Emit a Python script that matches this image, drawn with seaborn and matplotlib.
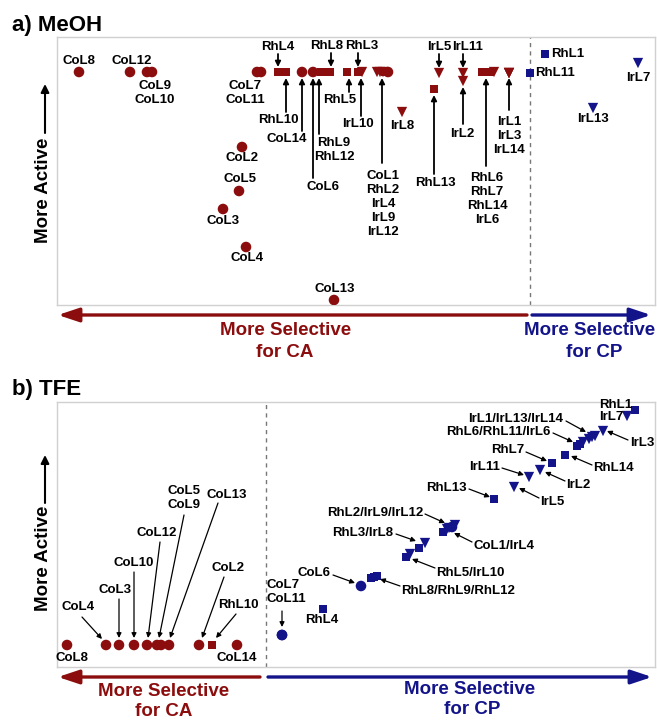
import numpy as np
import pandas as pd
import matplotlib
matplotlib.use('Agg')
import matplotlib.pyplot as plt
import seaborn as sns

# values; axis units are pixels of the original panels
# (x = selectivity, y = activity, small y = more active)

ligands = ['CoL1', 'CoL2', 'CoL3', 'CoL4', 'CoL5', 'CoL6', 'CoL7', 'CoL8', 'CoL9', 'CoL10', 'CoL11', 'CoL12', 'CoL13', 'CoL14',
           'RhL1', 'RhL2', 'RhL3', 'RhL4', 'RhL5', 'RhL6', 'RhL7', 'RhL8', 'RhL9', 'RhL10', 'RhL11', 'RhL12', 'RhL13', 'RhL14',
           'IrL1', 'IrL2', 'IrL3', 'IrL4', 'IrL5', 'IrL6', 'IrL7', 'IrL8', 'IrL9', 'IrL10', 'IrL11', 'IrL12', 'IrL13', 'IrL14']

# a) MeOH
meoh_sel = [388, 242, 223, 246, 239, 313, 257, 79, 147, 152, 261, 130, 334, 302,
            545, 385, 358, 278, 347, 482, 486, 330, 321, 286, 530, 322, 434, 490,
            509, 463, 509, 377, 439, 494, 638, 402, 380, 362, 463, 383, 593, 509]
meoh_act = [72, 147, 209, 247, 191, 72, 72, 72, 72, 72, 72, 72, 300, 72,
            54, 72, 72, 72, 72, 72, 72, 72, 72, 72, 73, 72, 89, 72,
            73, 81, 73, 72, 73, 72, 63, 112, 72, 72, 73, 72, 108, 73]
meoh_split = 530

# b) TFE
tfe_sel = [452, 199, 119, 106, 157, 361, 282, 67, 161, 134, 282, 147, 169, 237,
           635, 443, 419, 323, 406, 577, 552, 371, 374, 212, 580, 377, 494, 565,
           589, 540, 603, 455, 514, 583, 627, 425, 447, 410, 529, 449, 592, 595]
tfe_act = [527, 645, 645, 645, 645, 586, 635, 645, 645, 645, 635, 645, 645, 645,
           410, 532, 548, 609, 557, 446, 463, 578, 577, 645, 444, 576, 499, 455,
           439, 470, 431, 525, 487, 442, 416, 543, 529, 554, 477, 528, 437, 436]
tfe_split = 266

RED = '#8c0d0d'
BLUE = '#13138a'
pal = {'CA': RED, 'CP': BLUE}
mk = {'Co': 'o', 'Rh': 's', 'Ir': 'v'}
msize = {'Co': 58, 'Rh': 40, 'Ir': 55}

sns.set_theme(style='white')
plt.rcParams['font.family'] = ['Liberation Sans', 'DejaVu Sans']
plt.rcParams['font.weight'] = 'bold'
plt.rcParams['text.color'] = 'black'

W, H = 657, 720
fig = plt.figure(figsize=(W / 100, H / 100), dpi=100)


def make_ax(top, bottom, split):
    ax = fig.add_axes([57 / W, 1 - bottom / H, 598 / W, (bottom - top) / H])
    ax.set_xlim(57, 655)
    ax.set_ylim(bottom, top)
    ax.set_xticks([])
    ax.set_yticks([])
    for s in ax.spines.values():
        s.set_color('#d0d0d0')
        s.set_linewidth(1)
    ax.axvline(split, color='#777777', ls=(0, (3, 3)), lw=1, zorder=1)
    return ax


def scatter(ax, sel, act, split):
    df = pd.DataFrame({'lig': ligands, 'sel': sel, 'act': act})
    df['metal'] = df['lig'].str[:2]
    df['pref'] = np.where(df['sel'] >= split, 'CP', 'CA')
    sns.scatterplot(data=df, x='sel', y='act', hue='pref', style='metal', size='metal',
                    sizes=msize, palette=pal, markers=mk, linewidth=0, legend=False,
                    ax=ax, zorder=3)
    ax.set_xlabel('')
    ax.set_ylabel('')


def lab(ax, txt, x, y, ha='center', ls=1.2):
    ax.text(x, y, txt, ha=ha, va='center', fontsize=9.5, fontweight='bold', color='black',
            linespacing=ls, clip_on=False, zorder=4)


def arr(ax, tail, head, lw=1.3, ms=8):
    ax.annotate('', xy=head, xytext=tail,
                arrowprops=dict(arrowstyle='-|>', color='black', lw=lw, mutation_scale=ms,
                                shrinkA=0, shrinkB=0), annotation_clip=False, zorder=4)


def big_arrow(ax, tail, head, color, lw=2.4):
    ax.annotate('', xy=head, xytext=tail,
                arrowprops=dict(arrowstyle='-|>,head_length=0.9,head_width=0.3', color=color,
                                lw=lw, mutation_scale=14, shrinkA=0, shrinkB=0),
                annotation_clip=False)


def big_text(ax, txt, x, y, color, **kw):
    ax.text(x, y, txt, ha='center', va='center', fontsize=13.5, fontweight='bold',
            color=color, clip_on=False, **kw)


# ---------------- a) MeOH ----------------
ax1 = make_ax(37, 305, meoh_split)
scatter(ax1, meoh_sel, meoh_act, meoh_split)

for t, x, y in [('CoL8', 79, 61), ('CoL12', 132, 61), ('CoL9\nCoL10', 155, 93),
                ('CoL7\nCoL11', 245, 93), ('CoL2', 242, 158), ('CoL5', 240, 179),
                ('CoL3', 223, 221), ('CoL4', 247, 258), ('CoL13', 335, 289),
                ('IrL8', 402, 126), ('IrL13', 593, 119), ('IrL7', 638, 78)]:
    lab(ax1, t, x, y)
lab(ax1, 'RhL1', 551, 54, ha='left')
lab(ax1, 'RhL11', 535, 73, ha='left')

# labels with arrows: text, text pos, arrow tail, arrow head
a_arrows = [
    ('RhL4', (278, 47), (278, 54), (278, 67)),
    ('RhL8', (327, 46), (331, 53), (331, 67)),
    ('RhL3', (362, 46), (358, 53), (358, 67)),
    ('IrL5', (439, 47), (439, 54), (439, 68)),
    ('IrL11', (468, 47), (463, 54), (463, 68)),
    ('RhL10', (278, 120), (286, 112), (286, 78)),
    ('CoL14', (287, 139), (302, 131), (302, 78)),
    ('CoL6', (323, 187), (313, 178), (313, 78)),
    ('RhL9\nRhL12', (334, 150), (319, 134), (319, 78)),
    ('RhL5', (340, 100), (349, 92), (349, 78)),
    ('IrL10', (358, 124), (361, 116), (361, 78)),
    ('CoL1\nRhL2\nIrL4\nIrL9\nIrL12', (383, 204), (382, 163), (382, 78)),
    ('RhL13', (435, 183), (434, 174), (434, 95)),
    ('IrL2', (462, 134), (463, 124), (463, 87)),
    ('RhL6\nRhL7\nRhL14\nIrL6', (487, 199), (486, 166), (486, 78)),
    ('IrL1\nIrL3\nIrL14', (509, 136), (509, 110), (509, 78)),
]
for t, tp, tail, head in a_arrows:
    lab(ax1, t, *tp)
    arr(ax1, tail, head)

ax1.text(12, 26, 'a) MeOH', ha='left', va='center', fontsize=16, fontweight='bold', clip_on=False)
ax1.text(44, 190, 'More Active', rotation=90, ha='center', va='center', fontsize=13.5,
         fontweight='bold', clip_on=False)
arr(ax1, (45, 133), (45, 84), lw=1.5, ms=12)

big_arrow(ax1, (527, 315), (58, 315), RED)
big_arrow(ax1, (532, 315), (651, 315), BLUE)
big_text(ax1, 'More Selective', 286, 330, RED)
big_text(ax1, 'for CA', 285, 352, RED)
big_text(ax1, 'More Selective', 590, 330, BLUE)
big_text(ax1, 'for CP', 594, 352, BLUE)

# ---------------- b) TFE ----------------
ax2 = make_ax(402, 667, tfe_split)
scatter(ax2, tfe_sel, tfe_act, tfe_split)

lab(ax2, 'CoL8', 72, 658)
lab(ax2, 'CoL14', 237, 658)
lab(ax2, 'RhL4', 322, 620)
lab(ax2, 'RhL1\nIrL7', 599, 411, ha='left', ls=1.05)

# text, text pos, ha, arrow tail, arrow head
b_arrows = [
    ('CoL4', (78, 607), 'center', (82, 617), (102, 639)),
    ('CoL3', (115, 590), 'center', (119, 599), (119, 638)),
    ('CoL10', (134, 563), 'center', (134, 572), (134, 638)),
    ('CoL12', (157, 533), 'center', (160, 542), (148, 638)),
    ('CoL5\nCoL9', (184, 498), 'center', (184, 515), (159, 638)),
    ('CoL13', (227, 495), 'center', (218, 503), (170, 638)),
    ('CoL2', (228, 568), 'center', (224, 577), (202, 638)),
    ('RhL10', (238, 605), 'center', (236, 614), (216, 638)),
    ('CoL7\nCoL11', (267, 592), 'left', (282, 611), (282, 627)),
    ('CoL6', (331, 573), 'right', (333, 575), (355, 583)),
    ('RhL8/RhL9/RhL12', (401, 591), 'left', (400, 586), (380, 579)),
    ('RhL5/IrL10', (436, 573), 'left', (435, 568), (412, 559)),
    ('RhL3/IrL8', (393, 533), 'right', (396, 534), (416, 541)),
    ('CoL1/IrL4', (474, 546), 'left', (472, 542), (454, 533)),
    ('RhL2/IrL9/IrL12', (423, 513), 'right', (425, 514), (445, 523)),
    ('RhL13', (467, 488), 'right', (469, 489), (490, 497)),
    ('IrL5', (540, 502), 'left', (539, 498), (519, 488)),
    ('IrL11', (500, 467), 'right', (502, 468), (524, 475)),
    ('IrL2', (566, 485), 'left', (565, 481), (545, 472)),
    ('RhL7', (524, 450), 'right', (526, 452), (547, 461)),
    ('RhL14', (593, 468), 'left', (592, 465), (571, 456)),
    ('RhL6/RhL11/IrL6', (551, 432), 'right', (553, 433), (573, 442)),
    ('IrL1/IrL13/IrL14', (563, 419), 'right', (566, 421), (586, 432)),
    ('IrL3', (630, 443), 'left', (628, 440), (607, 431)),
]
for t, tp, ha, tail, head in b_arrows:
    lab(ax2, t, *tp, ha=ha, ls=1.28)
    arr(ax2, tail, head, lw=0.9, ms=7)

ax2.text(12, 389, 'b) TFE', ha='left', va='center', fontsize=16, fontweight='bold', clip_on=False)
ax2.text(44, 558, 'More Active', rotation=90, ha='center', va='center', fontsize=13.5,
         fontweight='bold', clip_on=False)
arr(ax2, (45, 503), (45, 455), lw=1.5, ms=12)

big_arrow(ax2, (260, 677), (58, 677), RED)
big_arrow(ax2, (268, 677), (652, 677), BLUE)
big_text(ax2, 'More Selective', 164, 692, RED)
big_text(ax2, 'for CA', 164, 712, RED)
big_text(ax2, 'More Selective', 470, 690, BLUE)
big_text(ax2, 'for CP', 472, 710, BLUE)

fig.savefig('out.png', dpi=100, facecolor='white')
